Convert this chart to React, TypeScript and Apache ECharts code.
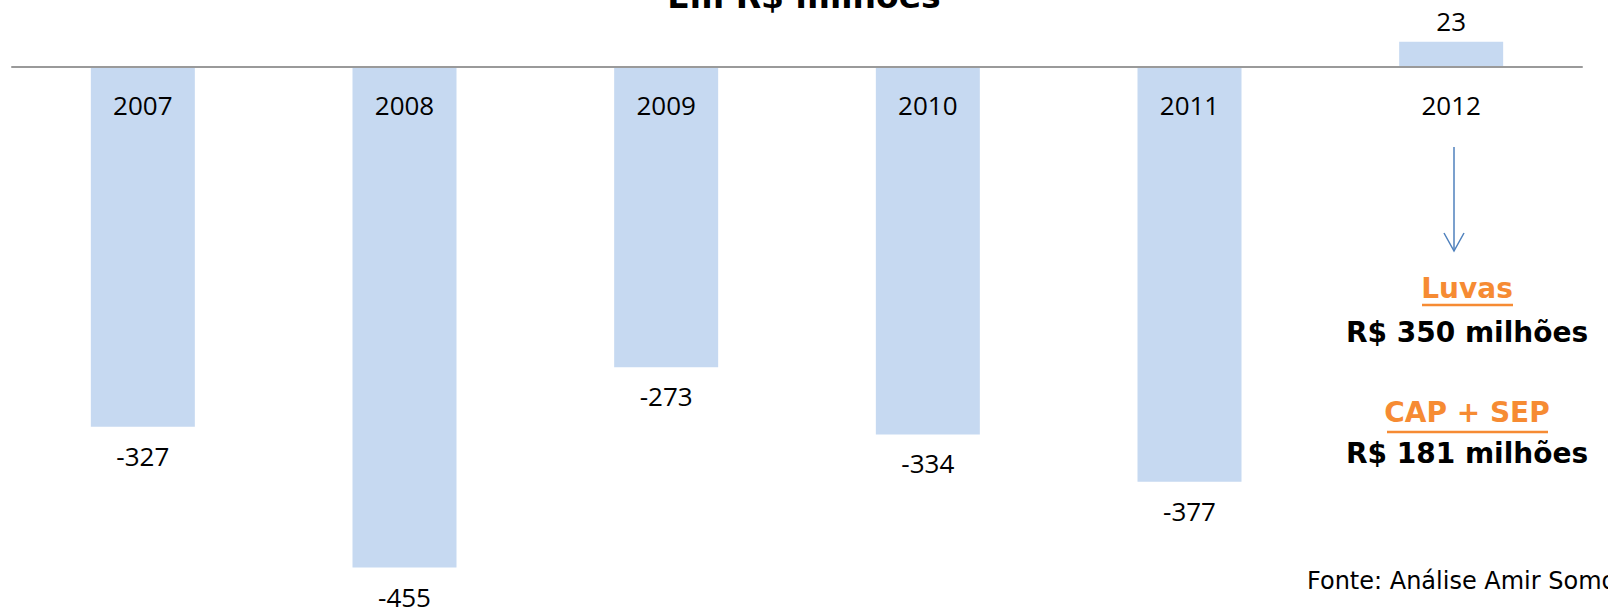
import React, { useEffect, useRef } from "react";
import * as echarts from "echarts";

const categories = ["2007", "2008", "2009", "2010", "2011", "2012"];
const values = [-327, -455, -273, -334, -377, 23];
const titleText = "Em R$ milhões";
const noteLines = [
  { head: "Luvas", body: "R$ 350 milhões" },
  { head: "CAP + SEP", body: "R$ 181 milhões" },
];
const sourceText = "Fonte: Análise Amir Somoggi";

export default function App() {
  const ref = useRef<HTMLDivElement>(null);
  useEffect(() => {
    document.body.style.margin = "0";
    const chart = echarts.init(ref.current!, null, { renderer: "svg" });
    const orange = "#F68B33";
    const labelFont = "'Open Sans', sans-serif";
    const boldFont = "'DejaVu Sans', sans-serif";
    const data = values.map((v) => ({
      value: v,
      label: {
        show: true,
        position: v >= 0 ? "top" : "bottom",
        distance: v >= 0 ? 8 : 16,
      },
    }));
    chart.setOption({
      animation: false,
      grid: {
        left: 12,
        width: 1570,
        top: 1,
        height: 594,
        containLabel: false,
        outerBoundsMode: "none",
      },
      xAxis: {
        type: "category",
        data: categories,
        position: "top",
        offset: -66,
        z: 5,
        axisLine: { show: true, onZero: false, lineStyle: { color: "#9a9a9a", width: 2 } },
        axisTick: { show: false },
        axisLabel: {
          inside: true,
          margin: 38,
          verticalAlign: "middle",
          fontSize: 26,
          color: "#000",
          fontFamily: labelFont,
        },
        splitLine: { show: false },
      },
      yAxis: {
        type: "value",
        min: -480,
        max: 60,
        show: false,
        splitLine: { show: false },
      },
      series: [
        {
          type: "bar",
          data,
          barWidth: 104,
          itemStyle: { color: "#C6D9F1" },
          label: {
            color: "#000",
            fontSize: 26,
            fontFamily: labelFont,
          },
        },
      ],
      graphic: [
        {
          type: "text",
          x: 804,
          y: -4,
          style: {
            text: titleText,
            fontSize: 33,
            fontWeight: "bold",
            fontFamily: boldFont,
            fill: "#000",
            align: "center",
            verticalAlign: "middle",
          },
        },
        {
          type: "line",
          shape: { x1: 1454, y1: 147, x2: 1454, y2: 251 },
          style: { stroke: "#4F81BD", lineWidth: 1.5 },
        },
        {
          type: "polyline",
          shape: { points: [[1444, 233], [1454, 251], [1464, 233]] },
          style: { stroke: "#4F81BD", lineWidth: 1.5, fill: null },
        },
        {
          type: "text",
          x: 1467,
          y: 288,
          style: {
            text: noteLines[0].head,
            fontSize: 28,
            fontWeight: "bold",
            fontFamily: boldFont,
            fill: orange,
            align: "center",
            verticalAlign: "middle",
          },
        },
        {
          type: "line",
          shape: { x1: 1422, y1: 305, x2: 1513, y2: 305 },
          style: { stroke: orange, lineWidth: 2.5 },
        },
        {
          type: "text",
          x: 1467,
          y: 332,
          style: {
            text: noteLines[0].body,
            fontSize: 28,
            fontWeight: "bold",
            fontFamily: boldFont,
            fill: "#000",
            align: "center",
            verticalAlign: "middle",
          },
        },
        {
          type: "text",
          x: 1467,
          y: 412,
          style: {
            text: noteLines[1].head,
            fontSize: 28,
            fontWeight: "bold",
            fontFamily: boldFont,
            fill: orange,
            align: "center",
            verticalAlign: "middle",
          },
        },
        {
          type: "line",
          shape: { x1: 1387, y1: 432, x2: 1548, y2: 432 },
          style: { stroke: orange, lineWidth: 2.5 },
        },
        {
          type: "text",
          x: 1467,
          y: 453,
          style: {
            text: noteLines[1].body,
            fontSize: 28,
            fontWeight: "bold",
            fontFamily: boldFont,
            fill: "#000",
            align: "center",
            verticalAlign: "middle",
          },
        },
        {
          type: "text",
          x: 1307,
          y: 581,
          style: {
            text: sourceText,
            fontSize: 24,
            fontFamily: boldFont,
            fill: "#000",
            align: "left",
            verticalAlign: "middle",
          },
        },
      ],
    });
    return () => chart.dispose();
  }, []);
  return (
    <div
      ref={ref}
      style={{ position: "absolute", left: 0, top: 0, width: 1608, height: 613 }}
    />
  );
}
